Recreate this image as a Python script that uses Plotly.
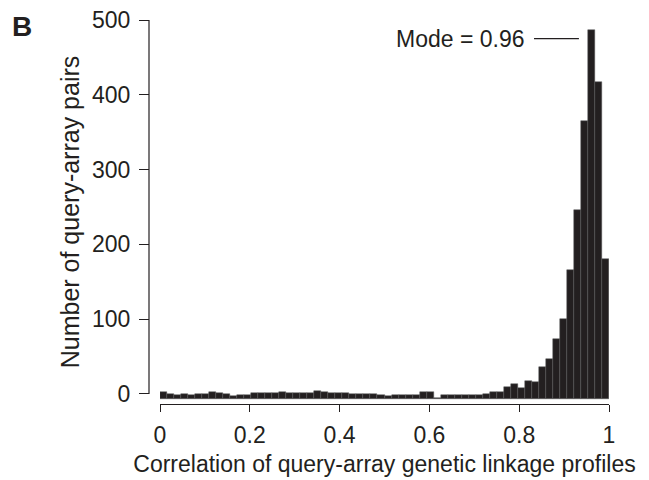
import plotly.graph_objects as go

# ---- data ----
N_BINS = 64
bin_edges = [i / N_BINS for i in range(N_BINS + 1)]
bin_centers = [(bin_edges[i] + bin_edges[i + 1]) / 2 for i in range(N_BINS)]

# bar tops as read against the y axis (number of query-array pairs)
counts = [
    3, 0, -1, 0, -1, 0, 0, 2, 1, 0,
    -3, -1, -1, 1, 1, 1, 1, 2.5, 1, 1,
    1, 1, 3.5, 3, 1, 1, 1, -0.5, -0.5, -0.5,
    -0.5, -1, -3, -2, -1.5, -1.5, -1, 2, 2, -6,
    -2, -2, -1, -1, -1.5, -1.5, 0, 2, 2, 9,
    13, 7.5, 18, 16, 36, 47, 74, 100, 166, 246,
    365, 486, 417, 181,
]

x_ticks = [0, 0.2, 0.4, 0.6, 0.8, 1]
x_ticktext = ["0", "0.2", "0.4", "0.6", "0.8", "1"]
y_ticks = [0, 100, 200, 300, 400, 500]
y_ticktext = ["0", "100", "200", "300", "400", "500"]

MODE = 0.96
mode_label = "Mode = 0.96"

# ---- style ----
INK = "#231f20"
FONT = "Liberation Sans, Arial, Helvetica, sans-serif"
FS_TICK = 23
FS_XTITLE = 23
FS_YTITLE = 25
BAR_BASE = -7          # bars sit slightly below the 0 tick, as in the reference
Y_MIN, Y_MAX = -13.4, 500

# the page adds an 8px body margin, so the figure is 8px smaller than the window
W, H = 641, 472
L, R, T, B = 132, 40, 12, 76
PLOT_W = W - L - R
PLOT_H = H - T - B
X_DOMAIN0 = 20 / PLOT_W
Y_AXIS_POS = 9 / PLOT_W

def ypaper(v):
    return (v - Y_MIN) / (Y_MAX - Y_MIN)

fig = go.Figure()
fig.add_trace(go.Bar(
    x=bin_centers,
    y=[c - BAR_BASE for c in counts],
    base=BAR_BASE,
    width=1 / N_BINS,
    marker=dict(color=INK, line=dict(width=0.5, color="#5a5a5a")),
    hoverinfo="skip",
))

# y-axis line only between 0 and 500
fig.add_shape(type="line", xref="paper", yref="paper",
              x0=Y_AXIS_POS, x1=Y_AXIS_POS, y0=ypaper(0), y1=ypaper(500),
              line=dict(color=INK, width=1.2))

# mode annotation
fig.add_shape(type="line", xref="x", yref="y",
              x0=MODE - 0.127, x1=MODE - 0.027, y0=475, y1=475,
              line=dict(color=INK, width=1.2))
fig.add_annotation(x=MODE - 0.142, y=475, xref="x", yref="y",
                   text=mode_label, showarrow=False, xanchor="right", yanchor="middle",
                   font=dict(family=FONT, size=FS_TICK, color=INK))

# panel letter
fig.add_annotation(x=(2 - L) / PLOT_W, y=(H - B - 19) / PLOT_H, xref="paper", yref="paper",
                   text="<b>B</b>", showarrow=False, xanchor="left", yanchor="middle",
                   font=dict(family=FONT, size=28, color=INK))

fig.update_layout(
    width=W, height=H,
    margin=dict(l=L, r=R, t=T, b=B, autoexpand=False),
    paper_bgcolor="white", plot_bgcolor="white",
    bargap=0, showlegend=False,
    font=dict(family=FONT, size=FS_TICK, color=INK),
    xaxis=dict(
        domain=[X_DOMAIN0, 1], range=[0, 1], automargin=False,
        showline=True, linecolor=INK, linewidth=1.2,
        ticks="outside", ticklen=7, tickcolor=INK, tickwidth=1.2,
        tickvals=x_ticks, ticktext=x_ticktext,
        showgrid=False, zeroline=False,
        ticklabelstandoff=3, ticklabeloverflow="allow",
        tickfont=dict(family=FONT, size=FS_TICK, color=INK),
        title=dict(text="Correlation of query-array genetic linkage profiles",
                   font=dict(family=FONT, size=FS_XTITLE, color=INK), standoff=9),
    ),
    yaxis=dict(
        domain=[0, 1], range=[Y_MIN, Y_MAX], automargin=False,
        anchor="free", position=Y_AXIS_POS,
        showline=False,
        ticks="outside", ticklen=10, tickcolor=INK, tickwidth=1.2,
        tickvals=y_ticks, ticktext=y_ticktext,
        showgrid=False, zeroline=False,
        ticklabelstandoff=4, ticklabeloverflow="allow",
        tickfont=dict(family=FONT, size=FS_TICK, color=INK),
        title=dict(text="Number of query-array pairs",
                   font=dict(family=FONT, size=FS_YTITLE, color=INK), standoff=4),
    ),
)

fig.write_html("out.html")
